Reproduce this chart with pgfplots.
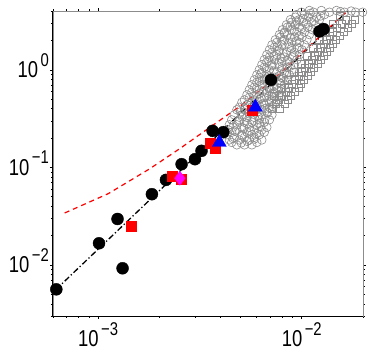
\documentclass[border=0pt]{standalone}
\usepackage{fontspec}
\setmainfont{Liberation Sans}
\usepackage{graphicx}
\usepackage{pgfplots}
\pgfplotsset{compat=1.18}

\definecolor{cloud}{RGB}{140,140,140}
\definecolor{mag}{RGB}{255,0,255}
\newcommand{\tl}[1]{\scalebox{0.9}[1.12]{10\raisebox{0.5em}{\fontsize{16.5}{16.5}\selectfont\,#1}}}

\begin{document}
\begin{tikzpicture}
\begin{axis}[
    scale only axis,
    width=310pt, height=305pt,
    xmode=log, ymode=log,
    xmin=6e-4, xmax=0.02,
    ymin=3e-3, ymax=4,
    clip=false,
    axis line style={cloud, line width=0.8pt},
    tick align=outside,
    tick style={black, line width=0.5pt},
    major tick length=3pt, minor tick length=2pt,
    xtick={0.001,0.01},
    xticklabels={\tl{−3},\tl{−2}},
    minor xtick={6e-4,7e-4,8e-4,9e-4,2e-3,3e-3,4e-3,5e-3,6e-3,7e-3,8e-3,9e-3,2e-2},
    ytick={0.01,0.1,1},
    yticklabels={\tl{−2},\tl{−1},\tl{0}},
    minor ytick={3e-3,4e-3,5e-3,6e-3,7e-3,8e-3,9e-3,0.02,0.03,0.04,0.05,0.06,0.07,0.08,0.09,0.2,0.3,0.4,0.5,0.6,0.7,0.8,0.9,2,3,4},
    xticklabel style={font=\fontsize{20.5}{20.5}\selectfont, inner sep=0pt, anchor=north, yshift=-3pt},
    yticklabel style={font=\fontsize{20.5}{20.5}\selectfont, inner sep=0pt, anchor=base east, yshift=-8pt, xshift=-1pt},
]
% gray cloud: open circles
\addplot[only marks, mark=o, mark size=4.3pt, mark options={cloud, line width=0.6pt}] coordinates {
(0.0048,0.170) (0.00523,0.170) (0.00569,0.170)
(0.00453,0.180) (0.00602,0.180)
(0.00441,0.191) (0.00494,0.191) (0.00553,0.191) (0.00637,0.191)
(0.00466,0.203) (0.00523,0.203) (0.00585,0.203)
(0.00429,0.216) (0.00508,0.216) (0.00569,0.216) (0.00619,0.216)
(0.00453,0.229) (0.00538,0.229) (0.00655,0.229)
(0.00436,0.242) (0.0048,0.242) (0.00585,0.242) (0.00637,0.242)
(0.00508,0.257) (0.00553,0.257) (0.00674,0.257)
(0.00441,0.273) (0.0048,0.273) (0.00602,0.273)
(0.00523,0.290) (0.00569,0.290) (0.00655,0.290)
(0.00453,0.307) (0.00494,0.307) (0.00619,0.307) (0.00694,0.307)
(0.00538,0.325) (0.00585,0.325)
(0.00466,0.345) (0.00508,0.345) (0.00637,0.345) (0.00714,0.345)
(0.00553,0.366) (0.00602,0.366) (0.00674,0.366)
(0.0048,0.389) (0.00523,0.389) (0.00637,0.389)
(0.00494,0.413) (0.00569,0.413) (0.00694,0.413)
(0.00538,0.438) (0.00602,0.438) (0.00655,0.438) (0.00734,0.438)
(0.00508,0.464) (0.00569,0.464) (0.00694,0.464)
(0.00523,0.492) (0.00619,0.492) (0.00755,0.492)
(0.00553,0.522) (0.00655,0.522) (0.00714,0.522)
(0.00538,0.554) (0.00602,0.554) (0.00777,0.554)
(0.00569,0.588) (0.00674,0.588) (0.00734,0.588)
(0.00553,0.624) (0.00619,0.624) (0.00799,0.624)
(0.00585,0.662) (0.00694,0.662) (0.00755,0.662)
(0.00569,0.702) (0.00637,0.702) (0.00822,0.702)
(0.00602,0.744) (0.00714,0.744) (0.00777,0.744)
(0.00585,0.789) (0.00655,0.789) (0.00846,0.789)
(0.00619,0.837) (0.00734,0.837) (0.00799,0.837)
(0.00602,0.888) (0.00674,0.888) (0.0087,0.888)
(0.00637,0.942) (0.00755,0.942) (0.00822,0.942)
(0.00619,1.00) (0.00694,1.00) (0.00895,1.00)
(0.00655,1.06) (0.00777,1.06) (0.00846,1.06)
(0.00637,1.13) (0.00714,1.13) (0.00921,1.13)
(0.00674,1.20) (0.00799,1.20) (0.0087,1.20)
(0.00655,1.27) (0.00734,1.27) (0.00948,1.27)
(0.00694,1.35) (0.00822,1.35) (0.00895,1.35)
(0.00674,1.43) (0.00755,1.43) (0.00975,1.43)
(0.00714,1.51) (0.00846,1.51) (0.00921,1.51)
(0.00694,1.60) (0.00777,1.60) (0.01003,1.60)
(0.00734,1.70) (0.0087,1.70) (0.00948,1.70)
(0.00714,1.80) (0.00799,1.80) (0.01031,1.80)
(0.00755,1.91) (0.00895,1.91) (0.00975,1.91)
(0.00742,2.03) (0.00822,2.03) (0.01061,2.03)
(0.00786,2.16) (0.00921,2.16) (0.01003,2.16)
(0.00777,2.29) (0.0085,2.29) (0.01091,2.29)
(0.00822,2.43) (0.00948,2.43) (0.01031,2.43)
(0.00804,2.57) (0.0089,2.57) (0.0113,2.57)
(0.0085,2.73) (0.00975,2.73) (0.0107,2.73)
(0.00841,2.89) (0.00931,2.89) (0.01168,2.89)
(0.0089,3.07) (0.0102,3.07) (0.01116,3.07)
(0.0088,3.26) (0.00975,3.26) (0.01222,3.26)
(0.00931,3.46) (0.0108,3.46) (0.0118,3.46)
(0.00942,3.67) (0.01031,3.67) (0.01294,3.67)
(0.00997,3.89) (0.01142,3.89) (0.01369,3.89) (0.01623,3.89) (0.01839,3.89) (0.01991,3.89)
(0.01091,4.05) (0.01249,4.05) (0.01481,4.05)
(0.00505,0.178) (0.0054,0.185) (0.0046,0.197) (0.00585,0.195) (0.0051,0.21)
(0.0060,0.222) (0.0047,0.235) (0.0056,0.236) (0.0052,0.25) (0.0063,0.262)
(0.0046,0.258) (0.0054,0.28) (0.0062,0.282) (0.0049,0.298) (0.0058,0.30)
(0.0066,0.315) (0.0051,0.33) (0.0061,0.335) (0.0055,0.355) (0.0068,0.36)
(0.005,0.37) (0.0059,0.38) (0.0066,0.40) (0.0053,0.40) (0.0062,0.425)
(0.0072,0.42) (0.0056,0.45) (0.0065,0.455) (0.0059,0.48) (0.0071,0.48)
(0.0063,0.51) (0.0058,0.535) (0.0069,0.54) (0.0062,0.57) (0.0072,0.575)
(0.0065,0.605) (0.0076,0.61) (0.006,0.64) (0.0069,0.645) (0.0064,0.68)
(0.0073,0.68) (0.0079,0.72) (0.0068,0.725) (0.0062,0.765) (0.0072,0.77)
(0.0081,0.81) (0.0066,0.81) (0.0077,0.86) (0.0069,0.865) (0.0063,0.91)
(0.0084,0.915) (0.0073,0.97) (0.0067,1.03) (0.008,1.03) (0.0088,1.09)
(0.0071,1.10) (0.0077,1.16) (0.0085,1.235) (0.0069,1.24) (0.0079,1.31)
(0.0091,1.39) (0.0073,1.39) (0.0081,1.47) (0.0077,1.555) (0.0089,1.65)
(0.0097,1.66) (0.0076,1.75) (0.0086,1.855) (0.0094,1.97) (0.0080,1.97)
(0.0088,2.10) (0.0097,2.22) (0.0082,2.36) (0.0092,2.50) (0.0100,2.65)
(0.0088,2.81) (0.0105,2.98) (0.0094,3.16) (0.0115,3.17) (0.0101,3.36)
(0.0124,3.56) (0.0110,3.78) (0.0155,3.95) (0.0175,4.0)
};
% gray cloud: open squares
\addplot[only marks, mark=square, mark size=3.5pt, mark options={cloud, line width=0.6pt}] coordinates {
(0.0071,0.398) (0.00777,0.398)
(0.00742,0.449) (0.00822,0.449)
(0.00768,0.492) (0.0085,0.492)
(0.00795,0.541) (0.0088,0.541) (0.00726,0.541)
(0.00831,0.594) (0.00921,0.594)
(0.0086,0.653) (0.00964,0.653) (0.00786,0.653)
(0.0089,0.718) (0.00986,0.718)
(0.00921,0.789) (0.0102,0.789) (0.0085,0.789)
(0.00964,0.867) (0.01067,0.867)
(0.00997,0.954) (0.01103,0.954) (0.0091,0.954)
(0.01031,1.05) (0.01142,1.05)
(0.0108,1.15) (0.01195,1.15) (0.00986,1.15)
(0.01116,1.27) (0.01236,1.27)
(0.01155,1.39) (0.0128,1.39) (0.01055,1.39)
(0.01195,1.53) (0.01324,1.53)
(0.01236,1.68) (0.01369,1.68) (0.0113,1.68)
(0.0128,1.85) (0.01416,1.85)
(0.01324,2.03) (0.01465,2.03) (0.01208,2.03)
(0.01369,2.23) (0.01533,2.23)
(0.01416,2.45) (0.01605,2.45) (0.01294,2.45)
(0.01481,2.70) (0.01679,2.70)
(0.01568,2.96) (0.01755,2.96) (0.01416,2.96)
(0.01642,3.26) (0.01817,3.26)
(0.01533,3.58)
};
% black filled circles
\addplot[only marks, mark=*, mark size=6pt, mark options={black}] coordinates {
(6.23e-4,0.00563) (1.01e-3,0.01668) (1.245e-3,0.0296) (1.318e-3,0.00925)
(1.837e-3,0.0531) (2.153e-3,0.0744) (2.57e-3,0.1078) (2.99e-3,0.1213)
(3.22e-3,0.1477) (3.65e-3,0.2368) (4.12e-3,0.2296) (7.06e-3,0.789)
(0.01222,2.47) (0.0128,2.61)
};
% black dash-dot fit
\addplot[black, line width=1.3pt, dash pattern=on 6pt off 2.5pt on 1.2pt off 2.5pt] coordinates {
(6.2e-4,0.0056) (0.0168,4.0)
};
% red dashed curve
\addplot[red, line width=1.2pt, dash pattern=on 5pt off 4pt] coordinates {
(6.85e-4,0.0341) (1.122e-3,0.0538) (1.778e-3,0.0957) (2.512e-3,0.155)
(3.548e-3,0.258) (5.012e-3,0.428) (7.079e-3,0.760) (0.0168,4.03)
};
% red squares
\addplot[only marks, mark=square*, mark size=5pt, mark options={red}] coordinates {
(1.46e-3,0.0247) (2.32e-3,0.0805) (2.55e-3,0.0762) (3.54e-3,0.177)
(3.77e-3,0.157) (5.68e-3,0.389)
};
% blue triangles
\addplot[only marks, mark=triangle*, mark size=8pt, mark options={blue}] coordinates {
(3.94e-3,0.18) (5.92e-3,0.414)
};
% magenta
\addplot[only marks, mark=diamond*, mark size=7pt, mark options={mag}] coordinates {
(2.52e-3,0.0775)
};
\draw[black, line width=1pt] (rel axis cs:0,1) -- (rel axis cs:0,0) -- (rel axis cs:1,0);
\end{axis}
\path (current axis.south west) ++(-53pt,-39pt);
\path (current axis.north east) ++(11pt,11pt);
\end{tikzpicture}
\end{document}
